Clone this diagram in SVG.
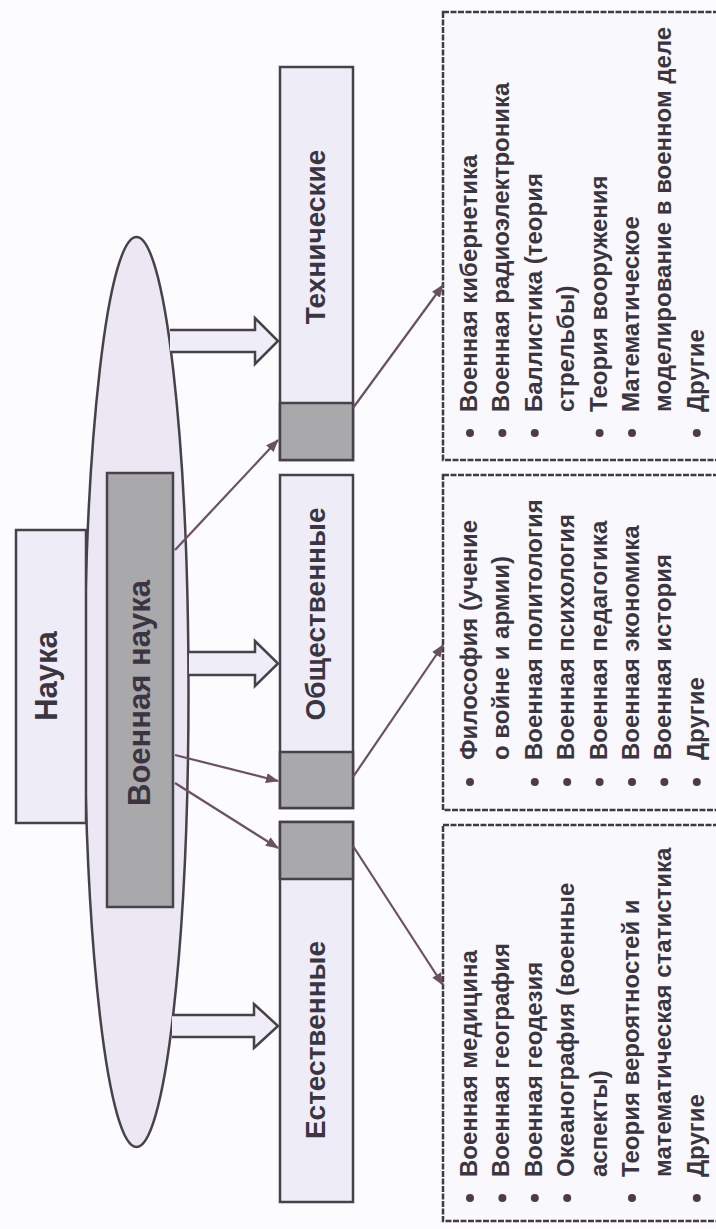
<svg xmlns="http://www.w3.org/2000/svg" width="716" height="1229" viewBox="0 0 716 1229">
<style>
.bg{fill:#fcfbfd}
.box{fill:#eeecf6;stroke:#47414c;stroke-width:2.5}
.gray{fill:#a9a8ab;stroke:#47414c;stroke-width:2.5}
.list{fill:#f9f8fc;stroke:#3f3a44;stroke-width:2.5;stroke-dasharray:6 1.5}
.ell{fill:#ebe8f4;stroke:#47414c;stroke-width:2.5}
.hdr{font-family:"Liberation Sans",Arial,sans-serif;font-weight:bold;font-size:28px;fill:#3a3540;text-anchor:middle}
.big{font-size:31px}
.li{font-family:"Liberation Sans",Arial,sans-serif;font-weight:bold;font-size:24px;fill:#3a3540}
.con{stroke:#6a5160;stroke-width:2.2;fill:none;marker-end:url(#ah)}
.blk{fill:#efedf7;stroke:#47414c;stroke-width:2.5}
.dot{fill:#4f3a47}
</style>
<defs>
<marker id="ah" markerUnits="userSpaceOnUse" markerWidth="13" markerHeight="10" refX="12" refY="5" orient="auto">
<path d="M0,0 L13,5 L0,10 z" fill="#6a5160"/>
</marker>
</defs>
<rect class="bg" x="0" y="0" width="716" height="1229"/>

<g id="ellipse">
<ellipse class="ell" cx="136.5" cy="692" rx="52" ry="455"/>
</g>

<g id="nauka">
<rect class="box" x="16" y="530" width="70" height="293"/>
<text class="hdr big" transform="translate(57,676) rotate(-90)">Наука</text>
</g>

<g id="voennaya-nauka">
<rect class="gray" x="107" y="473" width="66" height="434"/>
<text class="hdr big" transform="translate(150,693) rotate(-90)">Военная наука</text>
</g>

<g id="tekhnicheskie">
<rect class="box" x="280" y="67" width="73" height="393"/>
<rect class="gray" x="280" y="403" width="73" height="57"/>
<text class="hdr" transform="translate(325,237) rotate(-90)">Технические</text>
</g>

<g id="obshchestvennye">
<rect class="box" x="280" y="475" width="73" height="333"/>
<rect class="gray" x="280" y="752" width="73" height="56"/>
<text class="hdr" transform="translate(325,614) rotate(-90)">Общественные</text>
</g>

<g id="estestvennye">
<rect class="box" x="280" y="822" width="73" height="380"/>
<rect class="gray" x="280" y="822" width="73" height="57"/>
<text class="hdr" transform="translate(325,1040) rotate(-90)">Естественные</text>
</g>

<g id="list-tekhnicheskie">
<rect class="list" x="443" y="12" width="290" height="448"/>
<circle class="dot" cx="470" cy="433" r="4"/>
<circle class="dot" cx="502.4" cy="433" r="4"/>
<circle class="dot" cx="534.8" cy="433" r="4"/>
<circle class="dot" cx="599.6" cy="433" r="4"/>
<circle class="dot" cx="632" cy="433" r="4"/>
<circle class="dot" cx="696.8" cy="433" r="4"/>
<text class="li" transform="translate(477,412) rotate(-90)">Военная кибернетика</text>
<text class="li" transform="translate(509.4,412) rotate(-90)">Военная радиоэлектроника</text>
<text class="li" transform="translate(541.8,412) rotate(-90)">Баллистика (теория</text>
<text class="li" transform="translate(574.2,412) rotate(-90)">стрельбы)</text>
<text class="li" transform="translate(606.6,412) rotate(-90)">Теория вооружения</text>
<text class="li" transform="translate(639,412) rotate(-90)">Математическое</text>
<text class="li" transform="translate(671.4,412) rotate(-90)">моделирование в военном деле</text>
<text class="li" transform="translate(703.8,412) rotate(-90)">Другие</text>
</g>

<g id="list-obshchestvennye">
<rect class="list" x="443" y="475" width="290" height="335"/>
<circle class="dot" cx="470" cy="782" r="4"/>
<circle class="dot" cx="534.8" cy="782" r="4"/>
<circle class="dot" cx="567.2" cy="782" r="4"/>
<circle class="dot" cx="599.6" cy="782" r="4"/>
<circle class="dot" cx="632" cy="782" r="4"/>
<circle class="dot" cx="664.4" cy="782" r="4"/>
<circle class="dot" cx="696.8" cy="782" r="4"/>
<text class="li" transform="translate(477,760) rotate(-90)">Философия (учение</text>
<text class="li" transform="translate(509.4,760) rotate(-90)">о войне и армии)</text>
<text class="li" transform="translate(541.8,760) rotate(-90)">Военная политология</text>
<text class="li" transform="translate(574.2,760) rotate(-90)">Военная психология</text>
<text class="li" transform="translate(606.6,760) rotate(-90)">Военная педагогика</text>
<text class="li" transform="translate(639,760) rotate(-90)">Военная экономика</text>
<text class="li" transform="translate(671.4,760) rotate(-90)">Военная история</text>
<text class="li" transform="translate(703.8,760) rotate(-90)">Другие</text>
</g>

<g id="list-estestvennye">
<rect class="list" x="443" y="825" width="290" height="396"/>
<circle class="dot" cx="470" cy="1198" r="4"/>
<circle class="dot" cx="502.4" cy="1198" r="4"/>
<circle class="dot" cx="534.8" cy="1198" r="4"/>
<circle class="dot" cx="567.2" cy="1198" r="4"/>
<circle class="dot" cx="632" cy="1198" r="4"/>
<circle class="dot" cx="696.8" cy="1198" r="4"/>
<text class="li" transform="translate(477,1177) rotate(-90)">Военная медицина</text>
<text class="li" transform="translate(509.4,1177) rotate(-90)">Военная география</text>
<text class="li" transform="translate(541.8,1177) rotate(-90)">Военная геодезия</text>
<text class="li" transform="translate(574.2,1177) rotate(-90)">Океанография (военные</text>
<text class="li" transform="translate(606.6,1177) rotate(-90)">аспекты)</text>
<text class="li" transform="translate(639,1177) rotate(-90)">Теория вероятностей и</text>
<text class="li" transform="translate(671.4,1177) rotate(-90)">математическая статистика</text>
<text class="li" transform="translate(703.8,1177) rotate(-90)">Другие</text>
</g>

<g id="connectors">
<path class="blk" d="M170,330 H255 V318 L278,341 L255,364 V352 H170"/>
<path class="blk" d="M189,652 H255 V641 L278,663.5 L255,686 V675 H189"/>
<path class="blk" d="M172,1015 H254 V1004 L278,1026 L254,1048 V1037 H172"/>
<line class="con" x1="175" y1="550" x2="278" y2="440"/>
<line class="con" x1="175" y1="755" x2="278" y2="781"/>
<line class="con" x1="175" y1="783" x2="278" y2="848"/>
<line class="con" x1="353" y1="408" x2="443" y2="285"/>
<line class="con" x1="353" y1="777" x2="443" y2="645"/>
<line class="con" x1="353" y1="846" x2="443" y2="985"/>
</g>
</svg>
